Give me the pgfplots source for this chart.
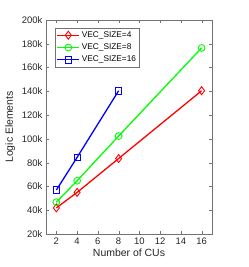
\documentclass[border=0pt]{standalone}
\usepackage{fontspec}
\setmainfont{Liberation Sans}
\usepackage{pgfplots}
\pgfplotsset{compat=1.18}
\definecolor{mgreen}{rgb}{0,1,0}
\begin{document}
\begin{tikzpicture}
\begin{axis}[
  scale only axis,
  width=166bp, height=214bp,
  xmin=1, xmax=17, ymin=20000, ymax=200000,
  xtick={2,4,...,16},
  ytick={20000,40000,...,200000},
  yticklabels={20k,40k,60k,80k,100k,120k,140k,160k,180k,200k},
  scaled y ticks=false,
  /pgf/number format/assume math mode=true,
  tick label style={font=\fontsize{9.5}{11}\selectfont, text=black!85},
  label style={font=\fontsize{10.5}{12}\selectfont, text=black!85},
  xlabel={Number of CUs},
  ylabel={Logic Elements},
  xlabel style={yshift=2bp},
  axis line style={black!55, line width=0.6pt},
  tick style={black!55},
  tick align=inside,
  major tick length=3bp,
  legend style={at={(rel axis cs:0.054,0.963)}, anchor=north west,
    font=\fontsize{8.3}{9}\selectfont, draw=black!55, inner sep=1.5bp, row sep=1bp},
  legend cell align=left,
  legend image code/.code={\draw[mark repeat=2,mark phase=2] plot coordinates {(0bp,0bp) (11bp,0bp) (22bp,0bp)};},
  every axis plot/.append style={line width=1.3pt},
]
\addplot[red, mark=diamond, mark size=4bp, mark options={solid, red, line width=0.9pt}] coordinates {(2,42000) (4,55000) (8,83500) (16,140500)};
\addlegendentry{VEC\_SIZE=4}
\addplot[mgreen, mark=o, mark size=3.4bp, mark options={solid, mgreen, line width=0.9pt}] coordinates {(2,46800) (4,64800) (8,102400) (16,176500)};
\addlegendentry{VEC\_SIZE=8}
\addplot[blue, mark=square, mark size=3.2bp, mark options={solid, blue, line width=0.8pt}] coordinates {(2,57000) (4,84500) (8,140500)};
\addlegendentry{VEC\_SIZE=16}
\end{axis}
\path[use as bounding box] (-46bp,-33bp) rectangle ++(249bp,267bp);
\end{tikzpicture}
\end{document}
